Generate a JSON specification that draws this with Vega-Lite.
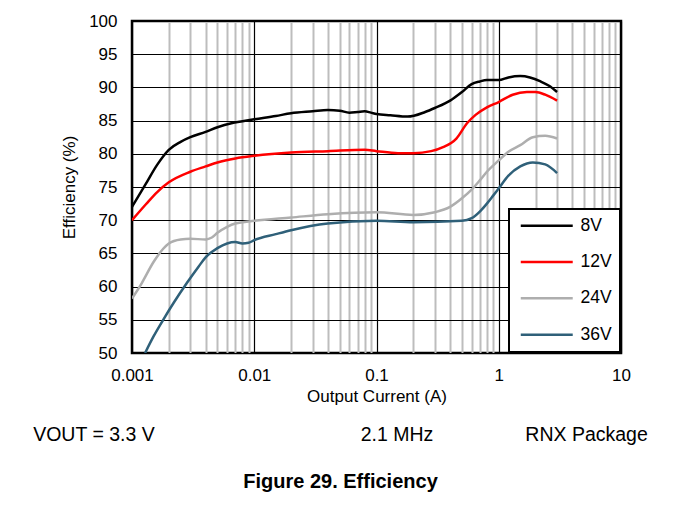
{
  "$schema": "https://vega.github.io/schema/vega-lite/v6.json",
  "width": 489,
  "height": 332,
  "autosize": "none",
  "padding": {"left": 132, "top": 21, "right": 52, "bottom": 154},
  "background": "white",
  "title": {
    "text": "VOUT = 3.3 V\u00a0\u00a0\u00a0\u00a0\u00a0\u00a0\u00a0\u00a0\u00a0\u00a0\u00a0\u00a0\u00a0\u00a0\u00a0\u00a0\u00a0\u00a0\u00a0\u00a0\u00a0\u00a0\u00a0\u00a0\u00a0\u00a0\u00a0\u00a0\u00a0\u00a0\u00a0\u00a0\u00a0\u00a0\u00a0\u00a0\u00a0\u00a02.1 MHz\u00a0\u00a0\u00a0\u00a0\u00a0\u00a0\u00a0\u00a0\u00a0\u00a0\u00a0\u00a0\u00a0\u00a0\u00a0\u00a0\u00a0RNX Package",
    "subtitle": "\u00a0\u00a0\u00a0\u00a0\u00a0\u00a0\u00a0\u00a0\u00a0Figure 29. Efficiency",
    "orient": "bottom",
    "anchor": "middle",
    "dx": -36,
    "offset": 22,
    "font": "Liberation Sans",
    "fontSize": 19.5,
    "fontWeight": "normal",
    "color": "#000000",
    "subtitleFont": "Liberation Sans",
    "subtitleFontSize": 20,
    "subtitleFontWeight": "bold",
    "subtitleColor": "#000000",
    "subtitlePadding": 26
  },
  "config": {
    "font": "Liberation Sans",
    "view": {"stroke": "#000000", "strokeWidth": 2.5},
    "legend": {"strokeWidth": 2}
  },
  "data": {
    "values": [
      {"series": "8V", "current": 0.001, "eff": 72.0},
      {"series": "8V", "current": 0.0013, "eff": 75.5},
      {"series": "8V", "current": 0.0016, "eff": 78.3},
      {"series": "8V", "current": 0.002, "eff": 80.6},
      {"series": "8V", "current": 0.0025, "eff": 81.8},
      {"series": "8V", "current": 0.003, "eff": 82.5},
      {"series": "8V", "current": 0.004, "eff": 83.3},
      {"series": "8V", "current": 0.005, "eff": 84.0},
      {"series": "8V", "current": 0.0065, "eff": 84.6},
      {"series": "8V", "current": 0.008, "eff": 84.9},
      {"series": "8V", "current": 0.01, "eff": 85.2},
      {"series": "8V", "current": 0.015, "eff": 85.7},
      {"series": "8V", "current": 0.02, "eff": 86.1},
      {"series": "8V", "current": 0.03, "eff": 86.4},
      {"series": "8V", "current": 0.04, "eff": 86.6},
      {"series": "8V", "current": 0.05, "eff": 86.5},
      {"series": "8V", "current": 0.06, "eff": 86.2},
      {"series": "8V", "current": 0.07, "eff": 86.3},
      {"series": "8V", "current": 0.08, "eff": 86.4},
      {"series": "8V", "current": 0.09, "eff": 86.2},
      {"series": "8V", "current": 0.1, "eff": 86.0},
      {"series": "8V", "current": 0.13, "eff": 85.8},
      {"series": "8V", "current": 0.18, "eff": 85.6},
      {"series": "8V", "current": 0.25, "eff": 86.3},
      {"series": "8V", "current": 0.3, "eff": 86.9},
      {"series": "8V", "current": 0.4, "eff": 88.0},
      {"series": "8V", "current": 0.5, "eff": 89.3},
      {"series": "8V", "current": 0.6, "eff": 90.5},
      {"series": "8V", "current": 0.7, "eff": 90.9},
      {"series": "8V", "current": 0.8, "eff": 91.1},
      {"series": "8V", "current": 1.0, "eff": 91.1},
      {"series": "8V", "current": 1.2, "eff": 91.5},
      {"series": "8V", "current": 1.5, "eff": 91.7},
      {"series": "8V", "current": 1.8, "eff": 91.5},
      {"series": "8V", "current": 2.2, "eff": 90.9},
      {"series": "8V", "current": 2.6, "eff": 90.2},
      {"series": "8V", "current": 3.0, "eff": 89.3},

      {"series": "12V", "current": 0.001, "eff": 70.0},
      {"series": "12V", "current": 0.0013, "eff": 72.4},
      {"series": "12V", "current": 0.0016, "eff": 74.2},
      {"series": "12V", "current": 0.002, "eff": 75.7},
      {"series": "12V", "current": 0.003, "eff": 77.3},
      {"series": "12V", "current": 0.004, "eff": 78.1},
      {"series": "12V", "current": 0.005, "eff": 78.7},
      {"series": "12V", "current": 0.007, "eff": 79.3},
      {"series": "12V", "current": 0.01, "eff": 79.7},
      {"series": "12V", "current": 0.02, "eff": 80.2},
      {"series": "12V", "current": 0.04, "eff": 80.4},
      {"series": "12V", "current": 0.08, "eff": 80.6},
      {"series": "12V", "current": 0.1, "eff": 80.4},
      {"series": "12V", "current": 0.15, "eff": 80.1},
      {"series": "12V", "current": 0.2, "eff": 80.1},
      {"series": "12V", "current": 0.28, "eff": 80.4},
      {"series": "12V", "current": 0.35, "eff": 81.0},
      {"series": "12V", "current": 0.45, "eff": 82.3},
      {"series": "12V", "current": 0.55, "eff": 84.6},
      {"series": "12V", "current": 0.65, "eff": 85.9},
      {"series": "12V", "current": 0.8, "eff": 87.0},
      {"series": "12V", "current": 1.0, "eff": 87.8},
      {"series": "12V", "current": 1.3, "eff": 88.9},
      {"series": "12V", "current": 1.7, "eff": 89.3},
      {"series": "12V", "current": 2.0, "eff": 89.3},
      {"series": "12V", "current": 2.4, "eff": 88.9},
      {"series": "12V", "current": 3.0, "eff": 88.0},

      {"series": "24V", "current": 0.001, "eff": 58.2},
      {"series": "24V", "current": 0.0012, "eff": 60.5},
      {"series": "24V", "current": 0.0015, "eff": 63.7},
      {"series": "24V", "current": 0.0018, "eff": 65.7},
      {"series": "24V", "current": 0.002, "eff": 66.5},
      {"series": "24V", "current": 0.0025, "eff": 67.1},
      {"series": "24V", "current": 0.003, "eff": 67.2},
      {"series": "24V", "current": 0.004, "eff": 67.1},
      {"series": "24V", "current": 0.0045, "eff": 67.4},
      {"series": "24V", "current": 0.005, "eff": 68.1},
      {"series": "24V", "current": 0.006, "eff": 69.0},
      {"series": "24V", "current": 0.007, "eff": 69.5},
      {"series": "24V", "current": 0.01, "eff": 69.9},
      {"series": "24V", "current": 0.02, "eff": 70.4},
      {"series": "24V", "current": 0.04, "eff": 70.9},
      {"series": "24V", "current": 0.1, "eff": 71.2},
      {"series": "24V", "current": 0.2, "eff": 70.8},
      {"series": "24V", "current": 0.3, "eff": 71.2},
      {"series": "24V", "current": 0.4, "eff": 72.0},
      {"series": "24V", "current": 0.5, "eff": 73.3},
      {"series": "24V", "current": 0.6, "eff": 74.6},
      {"series": "24V", "current": 0.7, "eff": 76.0},
      {"series": "24V", "current": 0.8, "eff": 77.3},
      {"series": "24V", "current": 1.0, "eff": 79.0},
      {"series": "24V", "current": 1.2, "eff": 80.3},
      {"series": "24V", "current": 1.5, "eff": 81.3},
      {"series": "24V", "current": 1.9, "eff": 82.5},
      {"series": "24V", "current": 2.4, "eff": 82.7},
      {"series": "24V", "current": 3.0, "eff": 82.3},

      {"series": "36V", "current": 0.00128, "eff": 50.0},
      {"series": "36V", "current": 0.0015, "eff": 52.5},
      {"series": "36V", "current": 0.0018, "eff": 55.0},
      {"series": "36V", "current": 0.0022, "eff": 57.6},
      {"series": "36V", "current": 0.0028, "eff": 60.5},
      {"series": "36V", "current": 0.0035, "eff": 63.0},
      {"series": "36V", "current": 0.004, "eff": 64.4},
      {"series": "36V", "current": 0.005, "eff": 65.8},
      {"series": "36V", "current": 0.006, "eff": 66.5},
      {"series": "36V", "current": 0.007, "eff": 66.7},
      {"series": "36V", "current": 0.008, "eff": 66.5},
      {"series": "36V", "current": 0.009, "eff": 66.6},
      {"series": "36V", "current": 0.01, "eff": 67.0},
      {"series": "36V", "current": 0.015, "eff": 67.9},
      {"series": "36V", "current": 0.02, "eff": 68.5},
      {"series": "36V", "current": 0.04, "eff": 69.5},
      {"series": "36V", "current": 0.1, "eff": 69.9},
      {"series": "36V", "current": 0.2, "eff": 69.7},
      {"series": "36V", "current": 0.5, "eff": 69.9},
      {"series": "36V", "current": 0.6, "eff": 70.3},
      {"series": "36V", "current": 0.7, "eff": 71.3},
      {"series": "36V", "current": 0.8, "eff": 72.5},
      {"series": "36V", "current": 0.9, "eff": 73.7},
      {"series": "36V", "current": 1.0, "eff": 74.8},
      {"series": "36V", "current": 1.2, "eff": 76.7},
      {"series": "36V", "current": 1.5, "eff": 78.1},
      {"series": "36V", "current": 1.9, "eff": 78.7},
      {"series": "36V", "current": 2.4, "eff": 78.4},
      {"series": "36V", "current": 3.0, "eff": 77.1}
    ]
  },
  "mark": {"type": "line", "interpolate": "monotone", "strokeWidth": 2.5, "clip": true},
  "encoding": {
    "x": {
      "field": "current",
      "type": "quantitative",
      "scale": {"type": "log", "domain": [0.001, 10], "nice": false},
      "axis": {
        "values": [0.001, 0.002, 0.003, 0.004, 0.005, 0.006, 0.007, 0.008, 0.009,
                   0.01, 0.02, 0.03, 0.04, 0.05, 0.06, 0.07, 0.08, 0.09,
                   0.1, 0.2, 0.3, 0.4, 0.5, 0.6, 0.7, 0.8, 0.9,
                   1, 2, 3, 4, 5, 6, 7, 8, 9, 10],
        "labelExpr": "indexof([0.001, 0.01, 0.1, 1, 10], datum.value) >= 0 ? '' + datum.value : ''",
        "grid": true,
        "gridColor": {"condition": {"test": "indexof([0.001, 0.01, 0.1, 1, 10], datum.value) >= 0", "value": "#000000"}, "value": "#BDBDBD"},
        "gridWidth": {"condition": {"test": "indexof([0.001, 0.01, 0.1, 1, 10], datum.value) >= 0", "value": 1.2}, "value": 2},
        "ticks": false,
        "domain": false,
        "labelFlush": false,
        "labelOverlap": false,
        "labelFont": "Liberation Sans",
        "labelFontSize": 17,
        "labelColor": "#000000",
        "labelPadding": 14,
        "title": "Output Current (A)",
        "titleFont": "Liberation Sans",
        "titleFontSize": 17,
        "titleFontWeight": "normal",
        "titleColor": "#000000",
        "titlePadding": 5
      }
    },
    "y": {
      "field": "eff",
      "type": "quantitative",
      "scale": {"domain": [50, 100], "nice": false, "zero": false},
      "axis": {
        "values": [50, 55, 60, 65, 70, 75, 80, 85, 90, 95, 100],
        "grid": true,
        "gridColor": "#000000",
        "gridWidth": 1.2,
        "ticks": false,
        "domain": false,
        "labelFlush": false,
        "labelOverlap": false,
        "labelFont": "Liberation Sans",
        "labelFontSize": 17,
        "labelColor": "#000000",
        "labelPadding": 15,
        "title": "Efficiency (%)",
        "titleFont": "Liberation Sans",
        "titleFontSize": 17,
        "titleFontWeight": "normal",
        "titleColor": "#000000",
        "titlePadding": 10
      }
    },
    "color": {
      "field": "series",
      "type": "nominal",
      "scale": {"domain": ["8V", "12V", "24V", "36V"], "range": ["#000000", "#FF0000", "#AEAEAE", "#2F6079"]},
      "legend": {
        "title": null,
        "orient": "bottom-right",
        "offset": 1,
        "fillColor": "#FFFFFF",
        "strokeColor": "#000000",
        "padding": 8,
        "symbolType": "M-5,0H5",
        "symbolSize": 108,
        "symbolStrokeWidth": 2.5,
        "symbolOffset": 21,
        "labelOffset": 25,
        "rowPadding": 17.3,
        "labelFont": "Liberation Sans",
        "labelFontSize": 17.5,
        "labelColor": "#000000"
      }
    }
  }
}
